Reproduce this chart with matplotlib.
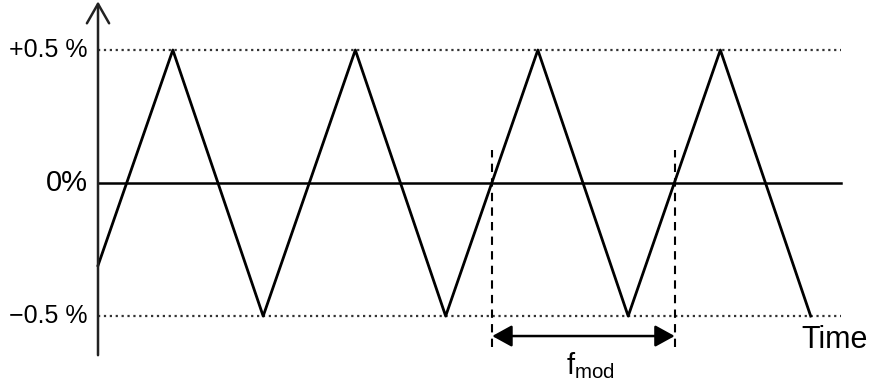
import matplotlib.pyplot as plt

plt.rcParams["font.family"] = ["Liberation Sans", "DejaVu Sans"]

# vertices of the triangle wave (time in modulation periods, deviation in %)
wave_t = [0.0, 0.41, 0.905, 1.41, 1.905, 2.41, 2.905, 3.41, 3.905]
wave_v = [-0.31, 0.5, -0.5, 0.5, -0.5, 0.5, -0.5, 0.5, -0.5]

level_values = [0.5, 0.0, -0.5]
level_labels = ["+0.5 %", "0%", "\u22120.5 %"]
level_styles = [":", "-", ":"]

period_marks = [2.16, 3.16]
time_end = 4.07

fig = plt.figure(figsize=(8.72, 3.81), dpi=100)
ax = fig.add_axes([0, 0, 1, 1])
ax.set_xlim(-0.537, 4.241)
ax.set_ylim(-0.744, 0.688)
ax.axis("off")

# reference levels
for v, lab, ls in zip(level_values, level_labels, level_styles):
    ax.plot(
        [0, time_end], [v, v],
        ls=ls,
        color="#333333" if ls == ":" else "black",
        lw=1.6 if ls == ":" else 1.8
    )
    ax.text(
        -0.055, v, lab,
        ha="right", va="center",
        fontsize=21 if v == 0 else 18
    )

# the modulation waveform
ax.plot(wave_t, wave_v, color="black", lw=2.0)

# vertical axis with open arrow head
ax.annotate(
    "",
    xy=(0, 0.683), xytext=(0, -0.647),
    arrowprops=dict(
        arrowstyle="->,head_length=0.7,head_width=0.4",
        color="#222222", lw=1.8,
        mutation_scale=20,
        shrinkA=0, shrinkB=0
    )
)

# one modulation period
for m in period_marks:
    ax.plot(
        [m, m], [-0.617, 0.124],
        ls=(0, (4, 3)), color="black", lw=1.5
    )

ax.annotate(
    "",
    xy=(period_marks[1], -0.575), xytext=(period_marks[0], -0.575),
    arrowprops=dict(
        arrowstyle="<|-|>,head_length=0.6,head_width=0.33",
        color="black", lw=1.8,
        mutation_scale=20,
        shrinkA=0, shrinkB=0
    )
)

ax.text(
    2.70, -0.685, r"$\mathregular{f_{mod}}$",
    ha="center", va="center", fontsize=21
)

ax.text(
    4.035, -0.59, "Time",
    ha="center", va="center", fontsize=22
)

fig.savefig("out.png", dpi=100)
plt.close(fig)
